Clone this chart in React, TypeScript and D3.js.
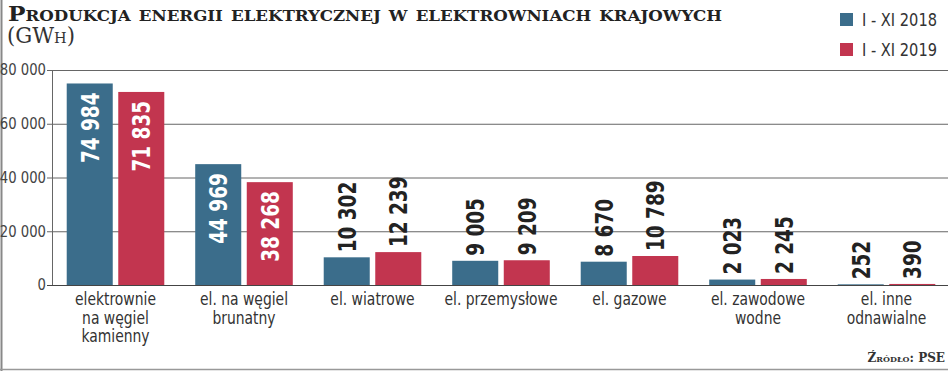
import React from "react";
import * as d3 from "d3";

const categories: string[][] = [
  ["elektrownie", "na węgiel", "kamienny"],
  ["el. na węgiel", "brunatny"],
  ["el. wiatrowe"],
  ["el. przemysłowe"],
  ["el. gazowe"],
  ["el. zawodowe", "wodne"],
  ["el. inne", "odnawialne"],
];
const series = ["I - XI 2018", "I - XI 2019"];
const values2018 = [74984, 44969, 10302, 9005, 8670, 2023, 252];
const values2019 = [71835, 38268, 12239, 9209, 10789, 2245, 390];
const yTicks = [0, 20000, 40000, 60000, 80000];

const W = 948;
const H = 371;
const colors = ["#3b6d8b", "#c2354f"];
const condensed = "'DejaVu Sans Condensed', 'DejaVu Sans', sans-serif";

const fmt = d3.formatLocale({ decimal: ",", thousands: " ", grouping: [3], currency: ["", ""] }).format(",d");

export default function App() {
  const keys = categories.map((c) => c.join(" "));
  const x0 = d3.scaleBand<string>().domain(keys).range([51.25, 950.75]).padding(0);
  const x1 = d3.scaleBand<string>().domain(series).range([0, x0.bandwidth()]).paddingInner(0.107).paddingOuter(0.3);
  const y = d3.scaleLinear().domain([0, 80000]).range([285, 70]);
  const data = [values2018, values2019];

  return (
    <svg width={W} height={H} style={{ position: "absolute", left: 0, top: 0, background: "#fff" }}>
      {/* frame */}
      <line x1={1.5} x2={1.5} y1={0} y2={H} stroke="#888" strokeWidth={2} />
      <line x1={0} x2={W} y1={369.5} y2={369.5} stroke="#999" strokeWidth={1.5} />

      {/* title */}
      <text x={8} y={21} fontFamily="'DejaVu Serif', serif" fontWeight="bold" fontSize={21}
        style={{ fontVariant: "small-caps" }} fill="#222" textLength={714} lengthAdjust="spacingAndGlyphs">
        Produkcja energii elektrycznej w elektrowniach krajowych
      </text>
      <text x={7} y={43} fontFamily="'DejaVu Serif', serif" fontSize={22} fill="#333"
        style={{ fontVariant: "small-caps" }} textLength={68} lengthAdjust="spacingAndGlyphs">
        (GWh)
      </text>

      {/* legend */}
      {series.map((s, i) => (
        <g key={s}>
          <rect x={840} y={13 + i * 30} width={13} height={13} fill={colors[i]} />
          <text x={862} y={26 + i * 30} fontFamily={condensed} fontSize={17} fill="#333"
            textLength={75} lengthAdjust="spacingAndGlyphs">{s}</text>
        </g>
      ))}

      {/* grid */}
      {yTicks.map((t) => (
        <g key={t}>
          <line x1={47} x2={W} y1={y(t) + 0.5} y2={y(t) + 0.5} stroke={t === 0 ? "#444" : "#666"} strokeWidth={1} />
          <g transform={`translate(46,${y(t)}) scale(0.98,1)`}>
            <text dy="0.35em" textAnchor="end" fontFamily={condensed} fontSize={15} fill="#444">
              {fmt(t)}
            </text>
          </g>
        </g>
      ))}
      <line x1={52.5} x2={52.5} y1={y(80000)} y2={y(0)} stroke="#666" strokeWidth={1} />

      {/* bars */}
      {keys.map((k, ci) => (
        <g key={k} transform={`translate(${x0(k)},0)`}>
          {series.map((s, si) => {
            const v = data[si][ci];
            const bx = x1(s)!;
            const bw = x1.bandwidth();
            const top = y(v);
            const inside = v > 20000;
            const cx = bx + bw / 2;
            const ly = inside ? top + 9 : top - 5;
            return (
              <g key={s}>
                <rect x={bx} y={top} width={bw} height={y(0) - top} fill={colors[si]} />
                <text
                  transform={`translate(${cx},${ly}) rotate(-90) scale(0.82,1)`}
                  textAnchor={inside ? "end" : "start"}
                  dy="0.36em"
                  fontFamily={condensed}
                  fontWeight="bold"
                  fontSize={25}
                  fill={inside ? "#fff" : "#222"}
                >
                  {fmt(v)}
                </text>
              </g>
            );
          })}
          {categories[ci].map((line, li) => (
            <g key={li} transform={`translate(${x0.bandwidth() / 2},${305 + li * 18.5}) scale(0.86,1)`}>
              <text textAnchor="middle" fontFamily={condensed} fontSize={18} fill="#333">
                {line}
              </text>
            </g>
          ))}
        </g>
      ))}

      {/* source */}
      <text x={945} y={362} textAnchor="end" fontFamily="'DejaVu Serif', serif" fontWeight="bold" fontSize={12}
        style={{ fontVariant: "small-caps" }} fill="#333">
        Źródło: PSE
      </text>
    </svg>
  );
}
